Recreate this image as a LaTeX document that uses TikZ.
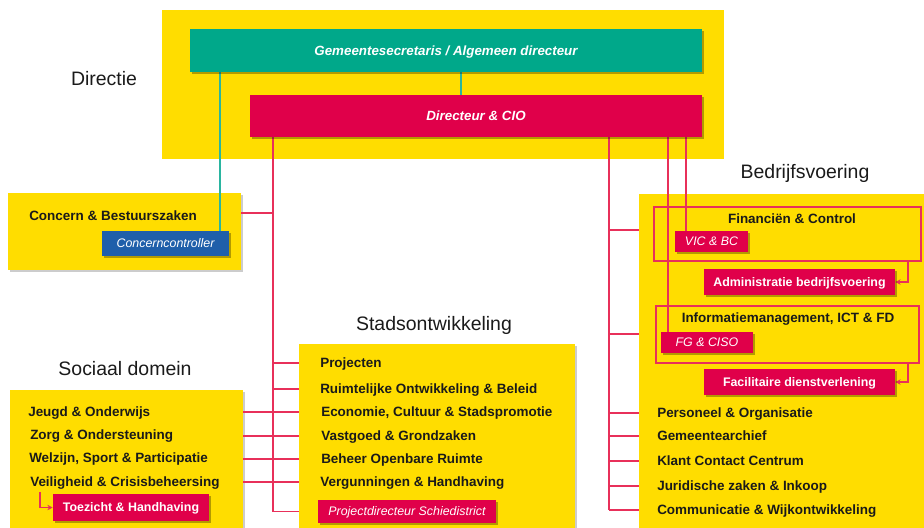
\documentclass[tikz,border=0pt]{standalone}
\usepackage{fontspec}
\setmainfont{Liberation Sans}
\usetikzlibrary{fit,shadows,arrows.meta}
\definecolor{ylw}{HTML}{FFDD00}
\definecolor{grn}{HTML}{00A88A}
\definecolor{rd}{HTML}{E0004A}
\definecolor{blu}{HTML}{1F5FAA}
\definecolor{rline}{HTML}{E8305A}
\definecolor{gline}{HTML}{2AB5A0}
\definecolor{txt}{HTML}{1A1A1A}
\pgfdeclarelayer{bglayer}
\pgfdeclarelayer{linelayer}
\pgfsetlayers{bglayer,linelayer,main}
\begin{document}
\begin{tikzpicture}[x=0.75pt,y=-0.75pt,
  shd/.style={drop shadow={shadow xshift=1.2pt,shadow yshift=-1.2pt,opacity=.3,fill=black}},
  ybox/.style={fill=ylw,inner sep=0pt},
  yshd/.style={ybox,drop shadow={shadow xshift=1.5pt,shadow yshift=-1.5pt,opacity=.2,fill=black}},
  gbox/.style={fill=grn,inner sep=0pt,shd},
  rbox/.style={fill=rd,inner sep=0pt,shd},
  bbox/.style={fill=blu,inner sep=0pt,shd},
  wtxt/.style={inner sep=0pt,text=white,font=\bfseries\fontsize{9.3}{11}\selectfont,text height=6.7pt,text depth=0pt},
  witxt/.style={wtxt,font=\itshape\fontsize{9.3}{11}\selectfont},
  wbitxt/.style={wtxt,font=\bfseries\itshape\fontsize{10}{12}\selectfont,text height=7.2pt},
  obox/.style={draw=rline,line width=0.8pt,inner sep=0pt},
  item/.style={anchor=west,inner sep=0pt,text=txt,font=\bfseries\fontsize{10.1}{12}\selectfont,text height=7.2pt,text depth=0pt},
  ctitem/.style={item,anchor=center},
  ttl/.style={inner sep=0pt,text=txt,font=\fontsize{14.6}{17}\selectfont,text height=10.5pt,text depth=0pt},
  rl/.style={draw=rline,line width=1.1pt},
  gl/.style={draw=gline,line width=1.1pt},
  arr/.style={rl,-{Stealth[length=4pt,width=4pt]}}
]
\useasboundingbox (0,0) rectangle (924,528);

% ---------- backgrounds
\begin{pgfonlayer}{bglayer}
\node[ybox,fit={(162,10)(724,159)}] (dirbg) {};
\node[yshd,fit={(8,193)(241,270)}] (cb) {};
\node[yshd,fit={(10,390)(243,528)}] (soc) {};
\node[yshd,fit={(299,344)(575,528)}] (stad) {};
\node[yshd,fit={(639,194)(924,528)}] (bv) {};
\end{pgfonlayer}

% ---------- titles
\node[ttl] (tdir) at (104,78) {Directie};
\node[ttl] (tbv) at (805,171) {Bedrijfsvoering};
\node[ttl] (tsoc) at (125,368) {Sociaal domein};
\node[ttl] (tstad) at (434,323) {Stadsontwikkeling};

% ---------- helper coordinates
\coordinate (xG) at (220,0);
\coordinate (xG2) at (461,0);
\coordinate (xA) at (273,0);
\coordinate (xB) at (609,0);
\coordinate (xC) at (668,0);
\coordinate (xD) at (686,0);
\coordinate (xE) at (908,0);
\coordinate (xS) at (40,0);
\coordinate (yCB) at (0,213);
\coordinate (yF) at (0,230);
\coordinate (yI) at (0,334);

% ---------- items (text)
\node[item] (cbt) at (29,216) {Concern \& Bestuurszaken};

\node[item] (s1) at (28,412) {Jeugd \& Onderwijs};
\node[item] (s2) at (30,435) {Zorg \& Ondersteuning};
\node[item] (s3) at (29,458) {Welzijn, Sport \& Participatie};
\node[item] (s4) at (30,482) {Veiligheid \& Crisisbeheersing};

\node[item] (p1) at (320,363) {Projecten};
\node[item] (p2) at (320,389) {Ruimtelijke Ontwikkeling \& Beleid};
\node[item] (p3) at (321,412) {Economie, Cultuur \& Stadspromotie};
\node[item] (p4) at (321,436) {Vastgoed \& Grondzaken};
\node[item] (p5) at (321,459) {Beheer Openbare Ruimte};
\node[item] (p6) at (320,482) {Vergunningen \& Handhaving};

\node[item] (b1) at (657,413) {Personeel \& Organisatie};
\node[item] (b2) at (657,436) {Gemeentearchief};
\node[item] (b3) at (657,461) {Klant Contact Centrum};
\node[item] (b4) at (657,486) {Juridische zaken \& Inkoop};
\node[item] (b5) at (657,510) {Communicatie \& Wijkontwikkeling};

% ---------- outlined groups
\node[obox,fit={(654,207)(921,261)}] (fin) {};
\node[obox,fit={(656,306)(919,363)}] (info) {};
\node[ctitem] (fint) at (792,219) {Financiën \& Control};
\node[ctitem] (infot) at (788,318) {Informatiemanagement, ICT \& FD};

% ---------- coloured boxes
\node[gbox,fit={(190,29)(702,72)}] (gs) {};
\node[wbitxt] (gst) at (gs.center) {Gemeentesecretaris / Algemeen directeur};
\node[rbox,fit={(250,95)(702,137)}] (dir) {};
\node[wbitxt] (dirt) at (dir.center) {Directeur \& CIO};
\node[bbox,fit={(102,231)(229,256)}] (cc) {};
\node[witxt] (cct) at (cc.center) {Concerncontroller};
\node[rbox,fit={(53,494)(209,521)}] (th) {};
\node[wtxt] (tht) at (th.center) {Toezicht \& Handhaving};
\node[rbox,fit={(318,500)(496,523)}] (pd) {};
\node[witxt] (pdt) at (pd.center) {Projectdirecteur Schiedistrict};
\node[rbox,fit={(675,231)(748,252)}] (vic) {};
\node[witxt] (vict) at (vic.center) {VIC \& BC};
\node[rbox,fit={(704,269)(895,295)}] (adm) {};
\node[wtxt] (admt) at (adm.center) {Administratie bedrijfsvoering};
\node[rbox,fit={(661,332)(753,353)}] (fg) {};
\node[witxt] (fgt) at (fg.center) {FG \& CISO};
\node[rbox,fit={(704,369)(895,395)}] (fac) {};
\node[wtxt] (fact) at (fac.center) {Facilitaire dienstverlening};

% ---------- connectors
\begin{pgfonlayer}{linelayer}
\draw[rl] (dir.south -| xA) -- (xA |- pd);
\draw[rl] (cb.east |- yCB) -- (xA |- yCB);
\draw[rl] (xA |- p1) -- (stad.west |- p1);
\draw[rl] (xA |- p2) -- (stad.west |- p2);
\draw[rl] (soc.east |- p3) -- (stad.west |- p3);
\draw[rl] (soc.east |- p4) -- (stad.west |- p4);
\draw[rl] (soc.east |- p5) -- (stad.west |- p5);
\draw[rl] (soc.east |- p6) -- (stad.west |- p6);
\draw[rl] (xA |- pd) -- (stad.west |- pd);

\draw[rl] (dir.south -| xB) -- (xB |- b5);
\draw[rl] (xB |- yF) -- (bv.west |- yF);
\draw[rl] (xB |- yI) -- (bv.west |- yI);
\draw[rl] (xB |- b1) -- (bv.west |- b1);
\draw[rl] (xB |- b2) -- (bv.west |- b2);
\draw[rl] (xB |- b3) -- (bv.west |- b3);
\draw[rl] (xB |- b4) -- (bv.west |- b4);
\draw[rl] (xB |- b5) -- (bv.west |- b5);
\draw[rl] (dir.south -| xC) -- (fg.north -| xC);
\draw[rl] (dir.south -| xD) -- (vic.north -| xD);

\draw[arr] (fin.south -| xE) |- (adm.east);
\draw[arr] (info.south -| xE) |- (fac.east);
\draw[arr] (s4.south -| xS) ++(0,5) |- (th.west);

\draw[gl] (gs.south -| xG) -- (cc.north -| xG);
\draw[gl] (gs.south -| xG2) -- (dir.north -| xG2);
\end{pgfonlayer}
\end{tikzpicture}
\end{document}
